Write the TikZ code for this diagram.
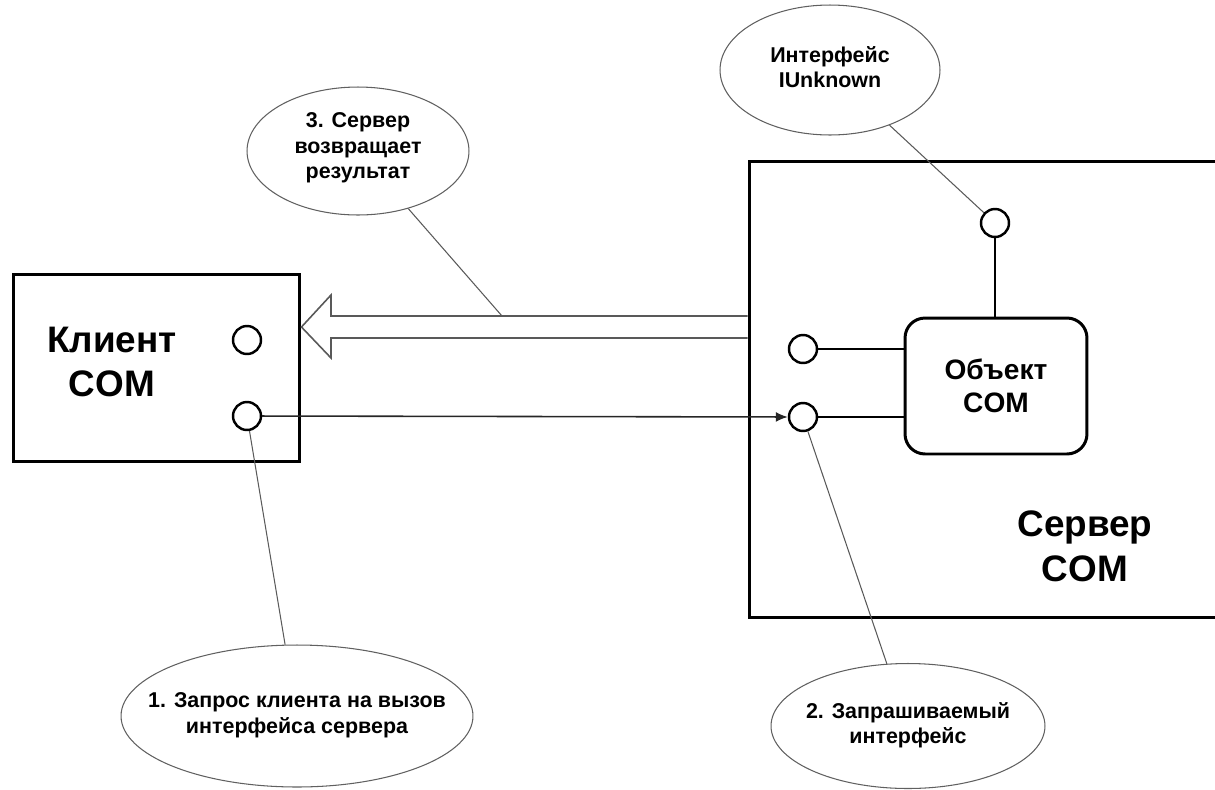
\documentclass[tikz,border=0pt]{standalone}
\usepackage{fontspec}
\setmainfont{Liberation Sans}
\usetikzlibrary{shapes.geometric,arrows.meta,calc}
\begin{document}
\begin{tikzpicture}[x=0.02cm,y=-0.02cm,
  box/.style={draw=black,line width=1.7pt,inner sep=0pt},
  port/.style={circle,draw=black,line width=1.4pt,fill=white,minimum size=0.56cm,inner sep=0pt},
  wire/.style={draw=black,line width=1.4pt},
  bigtxt/.style={font=\bfseries\fontsize{21}{25.5}\selectfont,align=center,inner sep=0pt},
  objtxt/.style={font=\bfseries\fontsize{16}{19}\selectfont,align=center},
  note/.style={ellipse,draw=gray!75!black,line width=0.6pt,inner sep=0pt},
  notetxt/.style={inner sep=0pt,align=center,font=\bfseries\fontsize{12.2}{14.5}\selectfont},
  leader/.style={draw=gray!70!black,line width=0.6pt},
  hollow/.style={draw=gray!70!black,line width=0.9pt,fill=white,line join=miter},
  call/.style={draw=black!85,line width=0.9pt,-{Latex[length=0.24cm,width=0.2cm]}}
]
\useasboundingbox (0,0) rectangle (1215,789);
\clip (0,0) rectangle (1215,789);

% client
\node[box,minimum width=5.74cm,minimum height=3.76cm] (client) at (156.5,368) {};
\node[bigtxt] (clientlbl) at (112,362) {Клиент\\COM};
\node[port] (c1) at (247,340) {};
\node[port] (c2) at (247,416) {};

% server
\node[box,minimum width=11.02cm,minimum height=9.14cm] (server) at (1024.5,389.5) {};
\node[bigtxt] (serverlbl) at (1085,546) {Сервер\\COM};
\node[box,rounded corners=0.4cm,minimum width=3.64cm,minimum height=2.72cm,objtxt] (obj) at (996,386) {Объект\\COM};
\node[port] (st) at (995,223) {};
\node[port] (s1) at (803,349) {};
\node[port] (s2) at (803,417) {};
\draw[wire] (st) -- (st |- obj.north);
\draw[wire] (s1) -- (s1 -| obj.west);
\draw[wire] (s2) -- (s2 -| obj.west);

% return arrow (hollow)
\draw[hollow] (server.west |- 0,316) -- (331,316) -- (331,295) -- (client.east |- 0,327)
  -- (331,358) -- (331,338) -- (server.west |- 0,338);
\coordinate (r3) at (502,316);

% call arrow
\draw[call] (c2) -- (s2);

% notes
\node[note,minimum width=4.44cm,minimum height=2.56cm] (e3) at (358,151) {};
\node[notetxt] (t3) at (358,148) {3. Сервер\\возвращает\\результат};
\node[note,minimum width=4.4cm,minimum height=2.6cm] (eiu) at (830,70) {};
\node[notetxt] (tiu) at (830,67) {Интерфейс\\IUnknown};
\node[note,minimum width=7.04cm,minimum height=2.84cm] (e1) at (297,716) {};
\node[notetxt] (t1) at (297,715) {1. Запрос клиента на вызов\\интерфейса сервера};
\node[note,minimum width=5.48cm,minimum height=2.5cm] (e2) at (908,726) {};
\node[notetxt] (t2) at (908,725) {2. Запрашиваемый\\интерфейс};

\draw[leader] (e3) -- (r3);
\draw[leader] (eiu) -- (st);
\draw[leader] (c2) -- (e1);
\draw[leader] (s2) -- (e2);
\end{tikzpicture}
\end{document}
